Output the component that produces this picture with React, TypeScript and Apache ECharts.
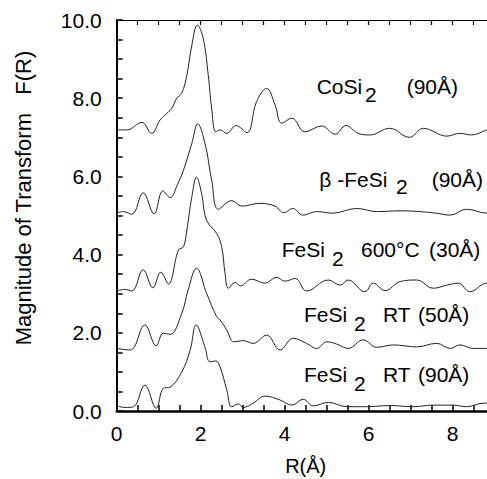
import React, { useEffect, useRef } from "react";
import * as echarts from "echarts";

// R (Å), magnitude (offset curves)
const coSi2: number[][] = [
  [0, 7.19], [0.24, 7.19], [0.6, 7.38], [0.83, 7.1], [1.03, 7.44], [1.15, 7.57], [1.31, 7.74],
  [1.43, 8.0], [1.55, 8.13], [1.67, 8.59], [1.79, 9.36], [1.92, 9.87], [2.06, 9.53], [2.18, 8.59],
  [2.26, 7.75], [2.36, 7.14], [2.46, 7.19], [2.62, 7.1], [2.84, 7.3], [3.1, 7.12], [3.33, 7.91],
  [3.57, 8.25], [3.77, 7.83], [3.93, 7.36], [4.17, 7.49], [4.48, 7.14], [4.88, 7.29], [5.2, 7.08],
  [5.46, 7.3], [5.75, 7.1], [6.03, 7.06], [6.5, 7.23], [6.97, 7.0], [7.3, 7.23], [7.86, 7.03],
  [8.17, 7.1], [8.45, 7.06], [8.81, 7.19], [9, 7.25],
];
const betaFeSi2: number[][] = [
  [0, 5.06], [0.16, 5.1], [0.36, 5.03], [0.63, 5.58], [0.89, 5.04], [1.1, 5.63], [1.27, 5.46],
  [1.45, 5.8], [1.59, 6.16], [1.79, 6.85], [1.93, 7.34], [2.1, 6.85], [2.26, 5.91], [2.42, 5.16],
  [2.74, 5.38], [2.98, 5.24], [3.41, 5.31], [3.77, 5.24], [3.98, 5.07], [4.19, 5.18], [4.44, 5.01],
  [4.76, 5.1], [5.15, 5.06], [5.71, 5.18], [6.19, 5.1], [6.75, 5.12], [7.54, 5.07], [7.94, 5.01],
  [8.33, 5.16], [8.81, 5.06], [9, 5.1],
];
const feSi2_600C: number[][] = [
  [0, 3.07], [0.2, 3.11], [0.36, 3.07], [0.63, 3.61], [0.86, 3.15], [1.05, 3.55], [1.23, 3.25],
  [1.47, 4.12], [1.59, 4.2], [1.67, 4.63], [1.79, 5.48], [1.9, 5.98], [2.02, 5.57], [2.14, 4.88],
  [2.38, 4.54], [2.5, 4.2], [2.58, 3.52], [2.66, 3.14], [2.82, 3.29], [2.95, 3.2], [3.21, 3.37],
  [3.53, 3.27], [3.81, 3.42], [4.0, 3.32], [4.25, 3.39], [4.52, 3.07], [5.04, 3.35], [5.32, 3.22],
  [5.51, 3.35], [5.91, 3.05], [6.11, 3.27], [6.39, 3.08], [6.75, 3.31], [7.14, 3.35], [7.54, 3.14],
  [7.86, 3.22], [8.13, 3.27], [8.41, 3.05], [8.81, 3.27], [9, 3.2],
];
const feSi2_RT50: number[][] = [
  [0, 1.6], [0.32, 1.56], [0.67, 2.2], [0.94, 1.67], [1.11, 1.99], [1.27, 1.96], [1.55, 2.5],
  [1.7, 3.09], [1.9, 3.65], [2.14, 3.01], [2.38, 2.41], [2.46, 2.33], [2.62, 2.07], [2.79, 1.77],
  [3.01, 1.8], [3.25, 1.73], [3.57, 1.94], [3.89, 1.56], [4.2, 1.86], [4.52, 1.73], [4.76, 1.6],
  [5.0, 1.77], [5.24, 1.71], [5.51, 1.6], [5.87, 1.82], [6.19, 1.63], [6.59, 1.69], [7.14, 1.64],
  [7.62, 1.73], [7.94, 1.6], [8.17, 1.69], [8.49, 1.6], [8.81, 1.6], [9, 1.62],
];
const feSi2_RT90: number[][] = [
  [0, 0.13], [0.2, 0.09], [0.4, 0.11], [0.67, 0.66], [0.94, 0.07], [1.11, 0.58], [1.27, 0.61],
  [1.55, 1.0], [1.75, 1.56], [1.89, 2.2], [2.1, 1.64], [2.22, 1.26], [2.36, 1.28], [2.46, 1.13],
  [2.62, 0.54], [2.74, 0.11], [2.9, 0.18], [3.01, 0.09], [3.25, 0.2], [3.53, 0.38], [3.89, 0.28],
  [4.17, 0.15], [4.44, 0.3], [4.68, 0.13], [5.04, 0.22], [5.48, 0.11], [5.95, 0.11], [6.5, 0.14],
  [7.06, 0.11], [7.53, 0.15], [8.01, 0.15], [8.33, 0.11], [8.73, 0.2], [9, 0.18],
];

const seriesList = [
  { name: "CoSi2 (90Å)", data: coSi2 },
  { name: "β-FeSi2 (90Å)", data: betaFeSi2 },
  { name: "FeSi2 600°C (30Å)", data: feSi2_600C },
  { name: "FeSi2 RT (50Å)", data: feSi2_RT50 },
  { name: "FeSi2 RT (90Å)", data: feSi2_RT90 },
];

const FONT = "'Liberation Sans', Arial, Helvetica, sans-serif";

function txt(text: string, x: number, y: number, size = 21) {
  return {
    type: "text",
    x,
    y,
    silent: true,
    style: {
      text,
      fill: "#000",
      font: `${size}px ${FONT}`,
      textAlign: "left",
      textVerticalAlign: "middle",
    },
  };
}

export default function App() {
  const ref = useRef<HTMLDivElement>(null);
  useEffect(() => {
    if (!ref.current) return;
    const chart = echarts.init(ref.current, undefined, { renderer: "svg" });
    const axisFont = { fontSize: 21, color: "#000", fontFamily: FONT };
    chart.setOption({
      animation: false,
      backgroundColor: "#fff",
      grid: {
        left: 116.7,
        top: 20,
        width: 378,
        height: 391,
        containLabel: false,
        outerBoundsMode: "none",
      },
      xAxis: [
        {
          type: "value",
          position: "bottom",
          min: 0,
          max: 9,
          interval: 0.5,
          axisLine: { show: true, onZero: false, lineStyle: { color: "#000", width: 2.5 } },
          axisTick: { show: true, inside: true, length: 6, lineStyle: { color: "#000", width: 1.5 } },
          axisLabel: {
            ...axisFont,
            margin: 12,
            showMaxLabel: false,
            formatter: (v: number) => (Math.abs(v % 2) < 1e-9 ? String(v) : ""),
          },
          splitLine: { show: false },
          name: "R(Å)",
          nameLocation: "middle",
          nameGap: 45,
          nameTextStyle: { ...axisFont, fontSize: 20, lineHeight: 20 },
        },
        {
          type: "value",
          position: "top",
          min: 0,
          max: 9,
          interval: 0.5,
          axisLine: { show: true, onZero: false, lineStyle: { color: "#000", width: 1.2 } },
          axisTick: { show: true, inside: true, length: 5, lineStyle: { color: "#000", width: 1.2 } },
          axisLabel: { show: false },
          splitLine: { show: false },
        },
      ],
      yAxis: {
        type: "value",
        min: 0,
        max: 10,
        interval: 0.5,
        axisLine: { show: true, onZero: false, lineStyle: { color: "#000", width: 2 } },
        axisTick: { show: true, inside: true, length: 6, lineStyle: { color: "#000", width: 1.5 } },
        axisLabel: {
          ...axisFont,
          margin: 15,
          formatter: (v: number) => (Math.abs(v % 2) < 1e-9 ? v.toFixed(1) : ""),
        },
        splitLine: { show: false },
      },
      series: seriesList.map((s) => ({
        type: "line",
        name: s.name,
        data: s.data,
        xAxisIndex: 0,
        showSymbol: false,
        smooth: 0.4,
        clip: true,
        lineStyle: { color: "#222", width: 1 },
      })),
      graphic: [
        {
          type: "text",
          x: 23,
          y: 198,
          rotation: Math.PI / 2,
          silent: true,
          style: {
            text: "Magnitude of Transform   F(R)",
            fill: "#000",
            font: `22px ${FONT}`,
            textAlign: "center",
            textVerticalAlign: "middle",
          },
        },
        txt("CoSi", 316.7, 86.3),
        txt("2", 365, 94),
        txt("(90Å)", 406.7, 86.3),
        txt("β -FeSi", 319.3, 179.7),
        txt("2", 396, 186),
        txt("(90Å)", 431.7, 179.7),
        txt("FeSi", 281.7, 249.7),
        txt("2", 332, 258),
        txt("600°C", 361, 249.7),
        txt("(30Å)", 429, 249.7),
        txt("FeSi", 304, 314.7),
        txt("2", 354, 323),
        txt("RT", 383, 314.7),
        txt("(50Å)", 418, 314.7),
        txt("FeSi", 304, 374.7),
        txt("2", 354, 383.5),
        txt("RT", 383, 374.7),
        txt("(90Å)", 418, 374.7),
      ],
    });
    return () => chart.dispose();
  }, []);
  return (
    <div
      ref={ref}
      style={{ position: "absolute", left: 0, top: 0, width: 487, height: 479, overflow: "hidden" }}
    />
  );
}
